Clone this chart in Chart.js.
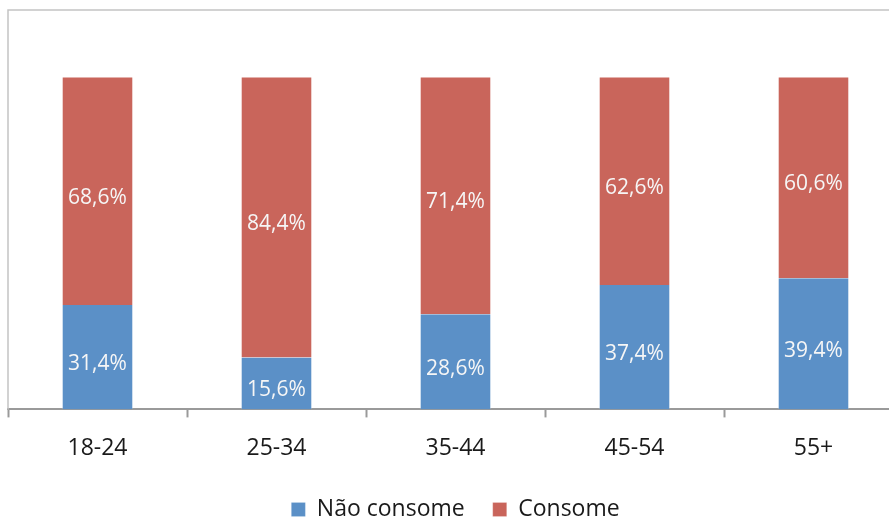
<!DOCTYPE html>
<html>
<head>
<meta charset="utf-8">
<script src="https://cdn.jsdelivr.net/npm/chart.js@4/dist/chart.umd.min.js"></script>
<style>
  html, body { margin: 0; padding: 0; background: #fff; overflow: hidden; }
  #wrap { position: relative; width: 920px; height: 517px; }
</style>
</head>
<body>
<div id="wrap"><canvas id="c" width="920" height="517"></canvas></div>
<script>
// Age groups and consumption shares (%)
const categories = ['18-24', '25-34', '35-44', '45-54', '55+'];
const naoConsome = [31.4, 15.6, 28.6, 37.4, 39.4];
const consome = [68.6, 84.4, 71.4, 62.6, 60.6];
const seriesNames = ['Não consome', 'Consome'];

const FONT = '"Open Sans", "Noto Sans", sans-serif';

// Plot-area frame (left and top edges)
const framePlugin = {
  id: 'frame',
  beforeDatasetsDraw(chart) {
    const { ctx, chartArea: a } = chart;
    ctx.save();
    ctx.strokeStyle = '#c4c4c4';
    ctx.lineWidth = 1.5;
    ctx.beginPath();
    ctx.moveTo(a.left, a.bottom);
    ctx.lineTo(a.left, a.top);
    ctx.lineTo(chart.width, a.top);
    ctx.stroke();
    ctx.restore();
  }
};

// Percentage labels in each bar segment
const valueLabels = {
  id: 'valueLabels',
  afterDatasetsDraw(chart) {
    const { ctx } = chart;
    ctx.save();
    ctx.fillStyle = '#f6f6f6';
    ctx.font = '21px ' + FONT;
    ctx.textAlign = 'center';
    ctx.textBaseline = 'middle';
    chart.data.datasets.forEach((ds, i) => {
      const meta = chart.getDatasetMeta(i);
      meta.data.forEach((bar, j) => {
        const v = ds.data[j];
        const txt = v.toFixed(1).replace('.', ',') + '%';
        ctx.fillText(txt, bar.x, (bar.y + bar.base) / 2 + 7);
      });
    });
    ctx.restore();
  }
};

const edge = 'rgba(255,255,255,0.28)';

new Chart(document.getElementById('c'), {
  type: 'bar',
  data: {
    labels: categories,
    datasets: [
      { label: seriesNames[0], data: naoConsome, backgroundColor: '#5b90c7',
        borderColor: edge, borderWidth: { left: 1, right: 1, top: 0, bottom: 0 }, borderSkipped: false },
      { label: seriesNames[1], data: consome, backgroundColor: '#c9655b',
        borderColor: edge, borderWidth: { left: 1, right: 1, top: 1, bottom: 0 }, borderSkipped: false }
    ]
  },
  options: {
    responsive: false,
    animation: false,
    layout: { padding: { left: 8, right: 17, top: 10, bottom: -14 } },
    datasets: { bar: { categoryPercentage: 1.0, barPercentage: 0.4 } },
    scales: {
      x: {
        stacked: true,
        offset: true,
        afterFit(scale) { scale.height -= 9; },
        grid: { offset: true, drawOnChartArea: false, drawTicks: true, tickLength: 8,
                color: '#9a9a9a', tickWidth: 2 },
        border: { display: true, color: '#9a9a9a', width: 2 },
        ticks: { color: '#1a1a1a', font: { family: FONT, size: 23 }, padding: 17 }
      },
      y: {
        stacked: true,
        display: false,
        min: 0,
        max: 120
      }
    },
    plugins: {
      legend: {
        position: 'bottom',
        labels: {
          color: '#1a1a1a',
          font: { family: FONT, size: 23 },
          boxWidth: 14, boxHeight: 14,
          padding: 28
        }
      },
      tooltip: { enabled: false }
    }
  },
  plugins: [framePlugin, valueLabels]
});
</script>
</body>
</html>
